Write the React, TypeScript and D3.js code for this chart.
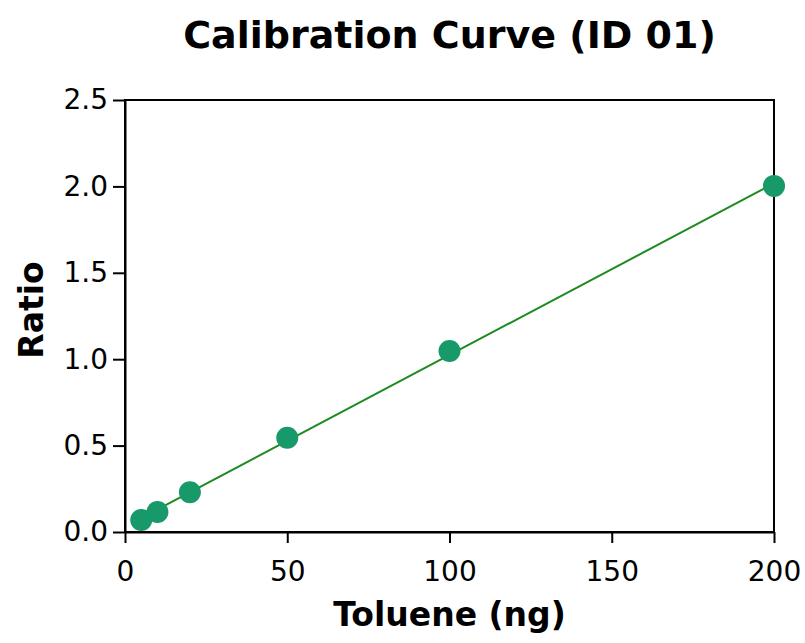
import React, { useEffect, useRef } from "react";
import * as d3 from "d3";

// data
const amounts = [5, 10, 20, 50, 100, 200];
const ratios = [0.07, 0.116, 0.23, 0.545, 1.047, 2.003];
const xTicks = [0, 50, 100, 150, 200];
const yTicks = [0, 0.5, 1.0, 1.5, 2.0, 2.5];

const App = () => {
  const svgRef = useRef<SVGSVGElement>(null);

  useEffect(() => {
    const width = 805;
    const height = 643;
    const margin = { top: 100, right: 31, bottom: 111, left: 125 };
    const font = "'DejaVu Sans', Verdana, sans-serif";

    const svg = d3.select(svgRef.current);
    svg.selectAll("*").remove();
    svg.attr("width", width).attr("height", height);

    const x = d3.scaleLinear().domain([0, 200]).range([margin.left, width - margin.right]);
    const y = d3.scaleLinear().domain([0, 2.5]).range([height - margin.bottom, margin.top]);

    // frame (top and right borders)
    svg
      .append("rect")
      .attr("x", x(0))
      .attr("y", y(2.5))
      .attr("width", x(200) - x(0))
      .attr("height", y(0) - y(2.5))
      .attr("fill", "none")
      .attr("stroke", "#000")
      .attr("stroke-width", 2);

    const xAxis = svg
      .append("g")
      .attr("transform", `translate(0,${y(0)})`)
      .call(d3.axisBottom(x).tickValues(xTicks).tickSize(11).tickPadding(18).tickSizeOuter(0));
    const yAxis = svg
      .append("g")
      .attr("transform", `translate(${x(0)},0)`)
      .call(
        d3
          .axisLeft(y)
          .tickValues(yTicks)
          .tickFormat(d3.format(".1f"))
          .tickSize(12)
          .tickPadding(5)
          .tickSizeOuter(0)
      );

    [xAxis, yAxis].forEach((g) => {
      g.selectAll("path, line").attr("stroke", "#000").attr("stroke-width", 2);
      g.selectAll("text").attr("font-family", font).attr("font-size", 28).attr("fill", "#000");
    });

    // fitted line
    const fit = d3.zip(amounts, ratios);
    const mx = d3.mean(amounts)!;
    const my = d3.mean(ratios)!;
    const slope =
      d3.sum(fit, ([a, r]) => (a - mx) * (r - my)) / d3.sum(amounts, (a) => (a - mx) ** 2);
    const intercept = my - slope * mx;
    const ends = [d3.min(amounts)!, d3.max(amounts)!];
    svg
      .append("path")
      .attr("d", d3.line<number>().x((a) => x(a)).y((a) => y(intercept + slope * a))(ends))
      .attr("stroke", "#1f8a1f")
      .attr("stroke-width", 2)
      .attr("fill", "none");

    // points
    svg
      .append("g")
      .selectAll("circle")
      .data(fit)
      .enter()
      .append("circle")
      .attr("cx", (d) => x(d[0]))
      .attr("cy", (d) => y(d[1]))
      .attr("r", 11)
      .attr("fill", "#17996a");

    // title and axis labels
    svg
      .append("text")
      .attr("x", (x(0) + x(200)) / 2)
      .attr("y", 48)
      .attr("text-anchor", "middle")
      .attr("font-family", font)
      .attr("font-weight", "bold")
      .attr("font-size", 38)
      .text("Calibration Curve (ID 01)");

    svg
      .append("text")
      .attr("x", (x(0) + x(200)) / 2)
      .attr("y", 626)
      .attr("text-anchor", "middle")
      .attr("font-family", font)
      .attr("font-weight", "bold")
      .attr("font-size", 33)
      .text("Toluene (ng)");

    svg
      .append("text")
      .attr("transform", `translate(43,${(y(0) + y(2.5)) / 2 - 6}) rotate(-90)`)
      .attr("text-anchor", "middle")
      .attr("font-family", font)
      .attr("font-weight", "bold")
      .attr("font-size", 33)
      .text("Ratio");
  }, []);

  return <svg ref={svgRef} style={{ position: "absolute", left: 0, top: 0 }}></svg>;
};

export default App;
